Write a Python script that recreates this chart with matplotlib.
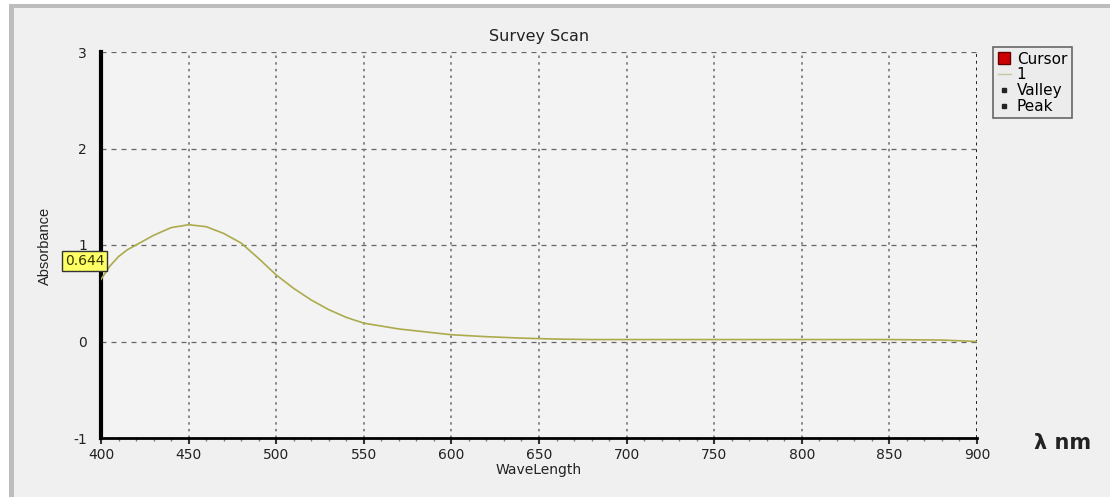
import matplotlib
matplotlib.use("Agg")
import matplotlib.pyplot as plt
from matplotlib.lines import Line2D
from matplotlib.patches import Rectangle
from matplotlib import font_manager
import numpy as np

plt.rcParams['font.family'] = ['DejaVu Sans']
plt.rcParams['axes.unicode_minus'] = False

wavelength = [400, 405, 410, 415, 420, 430, 440, 450, 460, 470, 480, 490, 500,
              510, 520, 530, 540, 550, 560, 570, 580, 590, 600, 620, 640, 660,
              680, 700, 750, 800, 850, 880, 900]
absorbance = [0.644, 0.78, 0.88, 0.95, 1.00, 1.10, 1.18, 1.21, 1.19, 1.12, 1.02,
              0.86, 0.69, 0.55, 0.43, 0.33, 0.25, 0.19, 0.16, 0.13, 0.11, 0.09,
              0.07, 0.05, 0.035, 0.025, 0.02, 0.02, 0.02, 0.02, 0.02, 0.015, 0.0]
x_ticks = [400, 450, 500, 550, 600, 650, 700, 750, 800, 850, 900]
y_ticks = [-1, 0, 1, 2, 3]
cursor_value = "0.644"
legend_labels = ["Cursor", "1", "Valley", "Peak"]

# condensed font for the y label if available
narrow = 'Liberation Sans Narrow'
available = {f.name for f in font_manager.fontManager.ttflist}
ylabel_family = [narrow, 'DejaVu Sans'] if narrow in available else ['Liberation Sans', 'DejaVu Sans']

fig = plt.figure(figsize=(11.10, 4.97), dpi=100, facecolor='white')
fig.patches.append(Rectangle((9/1110, -0.1), 1.2, 1.1 - 4/497, transform=fig.transFigure,
                             facecolor='#bdbdbd', edgecolor='none', zorder=-3))
fig.patches.append(Rectangle((14/1110, -0.1), 1.2, 1.1 - 8/497, transform=fig.transFigure,
                             facecolor='#f0f0f0', edgecolor='none', zorder=-2))

ax = fig.add_axes([101/1110, 1 - 438/497, 876/1110, 386/497])
ax.set_facecolor('#f3f3f3')
ax.plot(wavelength, absorbance, color='#abab4c', linewidth=1.2, zorder=3)
ax.set_xlim(400, 900)
ax.set_ylim(-1, 3)
ax.set_xticks(x_ticks)
ax.set_yticks(y_ticks)
ax.set_xticks(np.arange(400, 901, 10), minor=True)
ax.set_yticks(np.arange(-1, 3.01, 0.25), minor=True)
ax.tick_params(axis='x', which='major', labelsize=10, colors='#333333',
               length=4, width=1.5, direction='out', pad=3)
ax.tick_params(axis='x', which='minor', length=2.5, width=1, colors='#777777')
ax.tick_params(axis='y', which='both', length=0)
ax.tick_params(axis='y', labelsize=10, pad=10)
for lbl in ax.get_xticklabels() + ax.get_yticklabels():
    lbl.set_color('#222222')

# grid
for yv in y_ticks[1:]:
    ax.axhline(yv, color='#666666', linestyle=(0, (4, 4)), linewidth=0.9, zorder=1)
for xv in x_ticks[1:-1]:
    ax.axvline(xv, color='#777777', linestyle=(0, (1.5, 2.5)), linewidth=1.2, zorder=1)
ax.axvline(900, color='#222222', linestyle=(0, (1.5, 2)), linewidth=1.4, zorder=1)

for s in ['top', 'right']:
    ax.spines[s].set_visible(False)
ax.spines['left'].set_linewidth(3)
ax.spines['left'].set_color('black')
ax.spines['bottom'].set_linewidth(2)
ax.spines['bottom'].set_color('black')

ax.set_title("Survey Scan", fontsize=11.5, color='#222222', pad=8)
ax.set_xlabel("WaveLength", fontsize=10, color='#222222', labelpad=1)
fig.text(45/1110, 1 - 246/497, "Absorbance", rotation=90, fontsize=10.5,
         family=ylabel_family, color='#222222', ha='center', va='center')

# cursor label
ax.text(-0.041, 0.459, cursor_value, transform=ax.transAxes,
        fontsize=10, color='#333300', va='center', ha='left', zorder=6,
        bbox=dict(boxstyle='square,pad=0.2', facecolor='#ffff66', edgecolor='#333333', linewidth=1))

# legend
handles = [
    Line2D([], [], marker='s', linestyle='none', color='#cc0000', markeredgecolor='#660000', markersize=8),
    Line2D([], [], color='#c8c8a0', linewidth=1),
    Line2D([], [], marker='s', linestyle='none', color='#222222', markersize=3.5),
    Line2D([], [], marker='s', linestyle='none', color='#222222', markersize=3.5),
]
leg = fig.legend(handles, legend_labels, loc='upper left', bbox_to_anchor=(993/1110, 1 - 47/497),
                 fontsize=11, frameon=True, fancybox=False, handlelength=0.9,
                 handletextpad=0.35, borderpad=0.3, labelspacing=0.05, borderaxespad=0)
leg.get_frame().set_facecolor('#ececec')
leg.get_frame().set_edgecolor('#444444')
leg.get_frame().set_linewidth(1.2)

fig.text(1063/1110, 1 - 443/497, "λ nm", fontsize=15, fontweight='bold',
         color='#222222', ha='center', va='center')

fig.savefig("out.png", dpi=100, facecolor=fig.get_facecolor())
